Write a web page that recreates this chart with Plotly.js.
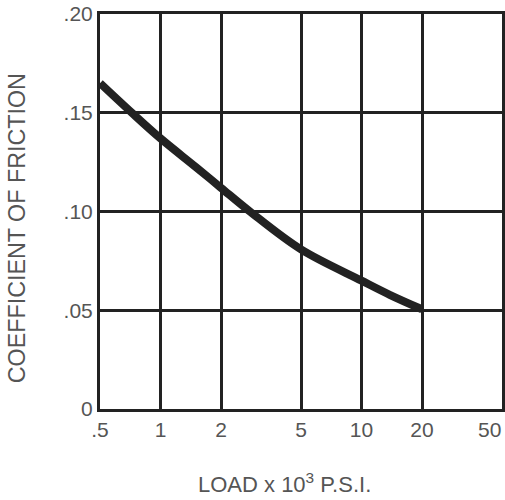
<!DOCTYPE html>
<html>
<head>
<meta charset="utf-8">
<script src="https://cdn.plot.ly/plotly-3.0.1.min.js"></script>
<style>html,body{margin:0;padding:0;background:#fff;}#chart{width:505px;height:500px;}</style>
</head>
<body>
<div id="chart"></div>
<script>
// Data
const loadValues = [0.5, 0.72, 1, 1.5, 2, 2.8, 5, 10, 13.9, 20];
const frictionValues = [0.165, 0.150, 0.137, 0.1225, 0.112, 0.0998, 0.0808, 0.0650, 0.0577, 0.0505];
const xTickVals = [0.5, 1, 2, 5, 10, 20, 50];
const xTickText = ['.5', '1', '2', '5', '10', '20', '50'];
const yTickVals = [0, 0.05, 0.10, 0.15, 0.20];
const yTickText = ['0', '.05', '.10', '.15', '.20'];

const fontFam = '"Liberation Sans", Arial, Helvetica, sans-serif';
const ink = '#222';
const textCol = '#555';

// the last tick label sits flush with the right edge, so it is drawn right-aligned
const lastIdx = xTickVals.length - 1;
const axisTickText = xTickText.map((t, i) => (i === lastIdx ? '' : t));

const trace = {
  x: loadValues,
  y: frictionValues,
  type: 'scatter',
  mode: 'lines',
  line: {color: ink, width: 8, shape: 'spline', smoothing: 1},
  hoverinfo: 'skip'
};

const layout = {
  width: 505,
  height: 500,
  margin: {l: 100, r: 3, t: 14, b: 91},
  paper_bgcolor: '#fff',
  plot_bgcolor: '#fff',
  showlegend: false,
  font: {family: fontFam, color: textCol, size: 21},
  xaxis: {
    type: 'log',
    range: [Math.log10(0.5) - 1e-6, Math.log10(50) + 1e-6],
    tickmode: 'array',
    tickvals: xTickVals,
    ticktext: axisTickText,
    showgrid: true,
    gridcolor: ink,
    gridwidth: 3,
    showline: true,
    linecolor: ink,
    linewidth: 3,
    mirror: true,
    ticks: '',
    zeroline: false,
    automargin: false,
    tickfont: {family: fontFam, color: textCol, size: 21}
  },
  yaxis: {
    range: [0, 0.2],
    tickmode: 'array',
    tickvals: yTickVals,
    ticktext: yTickText,
    showgrid: true,
    gridcolor: ink,
    gridwidth: 3,
    showline: true,
    linecolor: ink,
    linewidth: 3,
    mirror: true,
    ticks: '',
    zeroline: false,
    automargin: false,
    tickfont: {family: fontFam, color: textCol, size: 21}
  },
  annotations: [
    {
      text: xTickText[lastIdx],
      xref: 'x', yref: 'paper',
      x: Math.log10(xTickVals[lastIdx]), y: -0.053,
      xanchor: 'right', yanchor: 'middle',
      xshift: 1,
      showarrow: false,
      font: {family: fontFam, color: textCol, size: 21}
    },
    {
      text: 'LOAD x 10<sup>3</sup> P.S.I.',
      xref: 'paper', yref: 'paper',
      x: 0.46, y: -0.188,
      xanchor: 'center', yanchor: 'middle',
      showarrow: false,
      font: {family: fontFam, color: textCol, size: 22}
    },
    {
      text: 'COEFFICIENT OF FRICTION',
      xref: 'paper', yref: 'paper',
      x: -0.206, y: 0.458,
      xanchor: 'center', yanchor: 'middle',
      textangle: -90,
      showarrow: false,
      font: {family: fontFam, color: textCol, size: 23.3}
    }
  ]
};

Plotly.newPlot('chart', [trace], layout, {staticPlot: true, displayModeBar: false});
</script>
</body>
</html>
